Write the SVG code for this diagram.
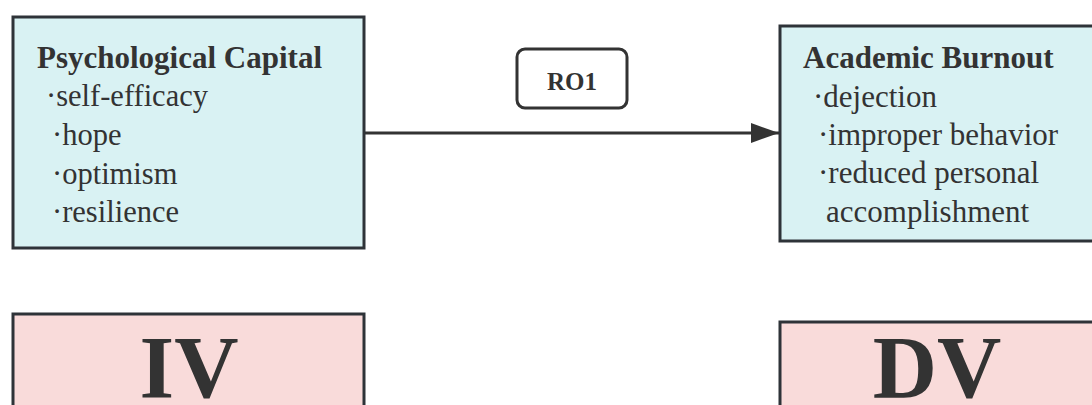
<svg xmlns="http://www.w3.org/2000/svg" width="1092" height="405" viewBox="0 0 1092 405">
<style>
.box{stroke:#2e3338;stroke-width:3}
.cyan{fill:#d9f2f3}
.pink{fill:#f9dbda}
text{font-family:'Liberation Serif','Times New Roman',serif;fill:#333}
.h{font-weight:bold;font-size:31px}
.t{font-size:30.5px}
.tr{font-size:31px}
.big{font-weight:bold;font-size:89px;text-anchor:middle}
.lbl{font-weight:bold;font-size:25px;text-anchor:middle}
</style>
<defs>
<marker id="arr" markerWidth="28" markerHeight="20" refX="28" refY="10" orient="auto" markerUnits="userSpaceOnUse">
<path d="M0,0 L28,10 L0,20 Z" fill="#333"/>
</marker>
</defs>
<rect width="1092" height="405" fill="#fff"/>
<g id="connectors">
<line x1="365" y1="133" x2="779" y2="133" stroke="#333" stroke-width="3" marker-end="url(#arr)"/>
</g>
<g id="ro1" font-family="Liberation Serif, serif">
<rect x="517" y="49" width="110" height="59" rx="8" fill="#fff" stroke="#333" stroke-width="3"/>
<text class="lbl" x="572" y="90">RO1</text>
</g>
<g id="psycap" font-family="Liberation Serif, serif">
<rect class="box cyan" x="13" y="17" width="351" height="231"/>
<text class="h" x="37" y="68">Psychological Capital</text>
<text class="t" x="46" y="106">·self-efficacy</text>
<text class="t" x="52" y="145">·hope</text>
<text class="t" x="52" y="184">·optimism</text>
<text class="t" x="52" y="222">·resilience</text>
</g>
<g id="burnout" font-family="Liberation Serif, serif">
<rect class="box cyan" x="780" y="26" width="316" height="215"/>
<text class="h" x="803" y="68">Academic Burnout</text>
<text class="tr" x="813" y="107">·dejection</text>
<text class="tr" x="818" y="145">·improper behavior</text>
<text class="tr" x="818" y="183">·reduced personal</text>
<text class="tr" x="826" y="222">accomplishment</text>
</g>
<g id="iv" font-family="Liberation Serif, serif">
<rect class="box pink" x="13" y="314" width="351" height="110"/>
<text class="big" x="189" y="397">IV</text>
</g>
<g id="dv" font-family="Liberation Serif, serif">
<rect class="box pink" x="780" y="322" width="316" height="110"/>
<text class="big" x="937" y="397">DV</text>
</g>
</svg>
